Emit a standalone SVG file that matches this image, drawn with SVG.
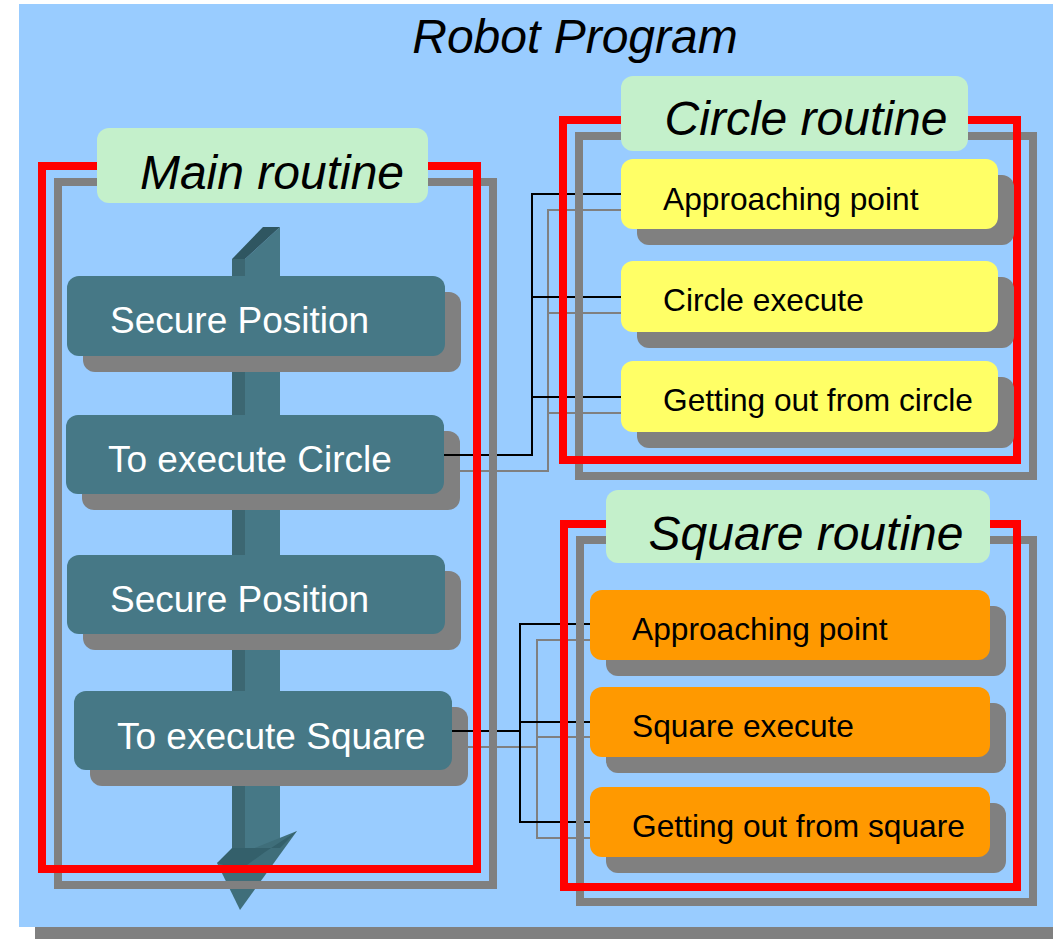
<svg xmlns="http://www.w3.org/2000/svg" width="1053" height="939" viewBox="0 0 1053 939">
<style>
.title{font-family:"Liberation Sans",Arial,sans-serif;font-style:italic;font-size:48px;fill:#000;text-anchor:middle}
.mtxt{font-family:"Liberation Sans",Arial,sans-serif;font-size:37px;fill:#fff}
.stxt{font-family:"Liberation Sans",Arial,sans-serif;font-size:31.7px;fill:#000}
.shadow{fill:#808080}
.teal{fill:#467886}
.yel{fill:#FFFF66}
.org{fill:#FF9900}
.lbl{fill:#C4F0CB}
.red{fill:none;stroke:#FF0000;stroke-width:8}
.gry{fill:none;stroke:#808080;stroke-width:8}
.bl{fill:none;stroke:#000;stroke-width:2}
.gl{fill:none;stroke:#808080;stroke-width:2}
</style>
<rect x="35" y="927" width="1018" height="12" fill="#808080"/>
<rect x="19" y="4" width="1034" height="923" fill="#99CCFF"/>
<text class="title" x="575" y="53">Robot Program</text>

<g id="arrow">
<rect x="232" y="259" width="13" height="600" fill="#3C6772"/>
<polygon points="245,259 280,227 280,850 245,860" fill="#467886"/>
<polygon points="232,259 263,227 280,227 245,259" fill="#2F5661"/>
<polygon points="217,863 297,831 240,910" fill="#3F6E7A"/>
<polygon points="217,863 232,848 280,848 297,831 265,852 240,870" fill="#34606B"/>
</g>

<g id="secure-position-1">
<rect class="shadow" x="83" y="292" width="378" height="80" rx="12"/>
<rect class="teal" x="67" y="276" width="378" height="80" rx="12"/>
<text class="mtxt" x="110" y="333">Secure Position</text>
</g>
<g id="to-execute-circle">
<rect class="shadow" x="82" y="431" width="378" height="79" rx="12"/>
<rect class="teal" x="66" y="415" width="378" height="79" rx="12"/>
<text class="mtxt" x="108" y="472">To execute Circle</text>
</g>
<g id="secure-position-2">
<rect class="shadow" x="83" y="571" width="378" height="79" rx="12"/>
<rect class="teal" x="67" y="555" width="378" height="79" rx="12"/>
<text class="mtxt" x="110" y="612">Secure Position</text>
</g>
<g id="to-execute-square">
<rect class="shadow" x="90" y="707" width="378" height="79" rx="12"/>
<rect class="teal" x="74" y="691" width="378" height="79" rx="12"/>
<text class="mtxt" x="117" y="749">To execute Square</text>
</g>

<g id="connectors">
<polyline class="gl" points="460,471 548,471 548,210 621,210"/>
<line class="gl" x1="548" y1="313" x2="621" y2="313"/>
<line class="gl" x1="548" y1="413" x2="621" y2="413"/>
<polyline class="bl" points="444,455 532,455 532,194 621,194"/>
<line class="bl" x1="532" y1="297" x2="621" y2="297"/>
<line class="bl" x1="532" y1="397" x2="621" y2="397"/>
<polyline class="gl" points="468,747 537,747 537,640 590,640"/>
<polyline class="gl" points="537,747 537,838 590,838"/>
<line class="gl" x1="537" y1="737" x2="590" y2="737"/>
<polyline class="bl" points="452,731 520,731 520,624 590,624"/>
<polyline class="bl" points="520,731 520,822 590,822"/>
<line class="bl" x1="520" y1="722" x2="590" y2="722"/>
</g>

<g id="main-routine">
<rect class="gry" x="58" y="182" width="435" height="703"/>
<rect class="red" x="42" y="166" width="435" height="703"/>
<rect class="lbl" x="97" y="128" width="331" height="75" rx="12"/>
<text class="title" x="272" y="189">Main routine</text>
</g>

<g id="circle-routine">
<rect class="gry" x="579" y="136" width="454" height="340"/>
<rect class="red" x="563" y="120" width="454" height="340"/>
<rect class="lbl" x="621" y="76" width="347" height="75" rx="12"/>
<text class="title" x="806" y="135">Circle routine</text>
</g>
<g id="circle-approach">
<rect class="shadow" x="637" y="175" width="377" height="70" rx="12"/>
<rect class="yel" x="621" y="159" width="377" height="70" rx="12"/>
<text class="stxt" x="663" y="210">Approaching point</text>
</g>
<g id="circle-execute">
<rect class="shadow" x="637" y="277" width="377" height="71" rx="12"/>
<rect class="yel" x="621" y="261" width="377" height="71" rx="12"/>
<text class="stxt" x="663" y="311">Circle execute</text>
</g>
<g id="circle-out">
<rect class="shadow" x="637" y="377" width="377" height="71" rx="12"/>
<rect class="yel" x="621" y="361" width="377" height="71" rx="12"/>
<text class="stxt" x="663" y="411">Getting out from circle</text>
</g>

<g id="square-routine">
<rect class="gry" x="580" y="540" width="453" height="362"/>
<rect class="red" x="564" y="524" width="453" height="363"/>
<rect class="lbl" x="606" y="490" width="384" height="73" rx="12"/>
<text class="title" x="806" y="550">Square routine</text>
</g>
<g id="square-approach">
<rect class="shadow" x="606" y="606" width="400" height="70" rx="12"/>
<rect class="org" x="590" y="590" width="400" height="70" rx="12"/>
<text class="stxt" x="632" y="640">Approaching point</text>
</g>
<g id="square-execute">
<rect class="shadow" x="606" y="703" width="400" height="70" rx="12"/>
<rect class="org" x="590" y="687" width="400" height="70" rx="12"/>
<text class="stxt" x="632" y="737">Square execute</text>
</g>
<g id="square-out">
<rect class="shadow" x="606" y="803" width="400" height="70" rx="12"/>
<rect class="org" x="590" y="787" width="400" height="70" rx="12"/>
<text class="stxt" x="632" y="837">Getting out from square</text>
</g>
</svg>
